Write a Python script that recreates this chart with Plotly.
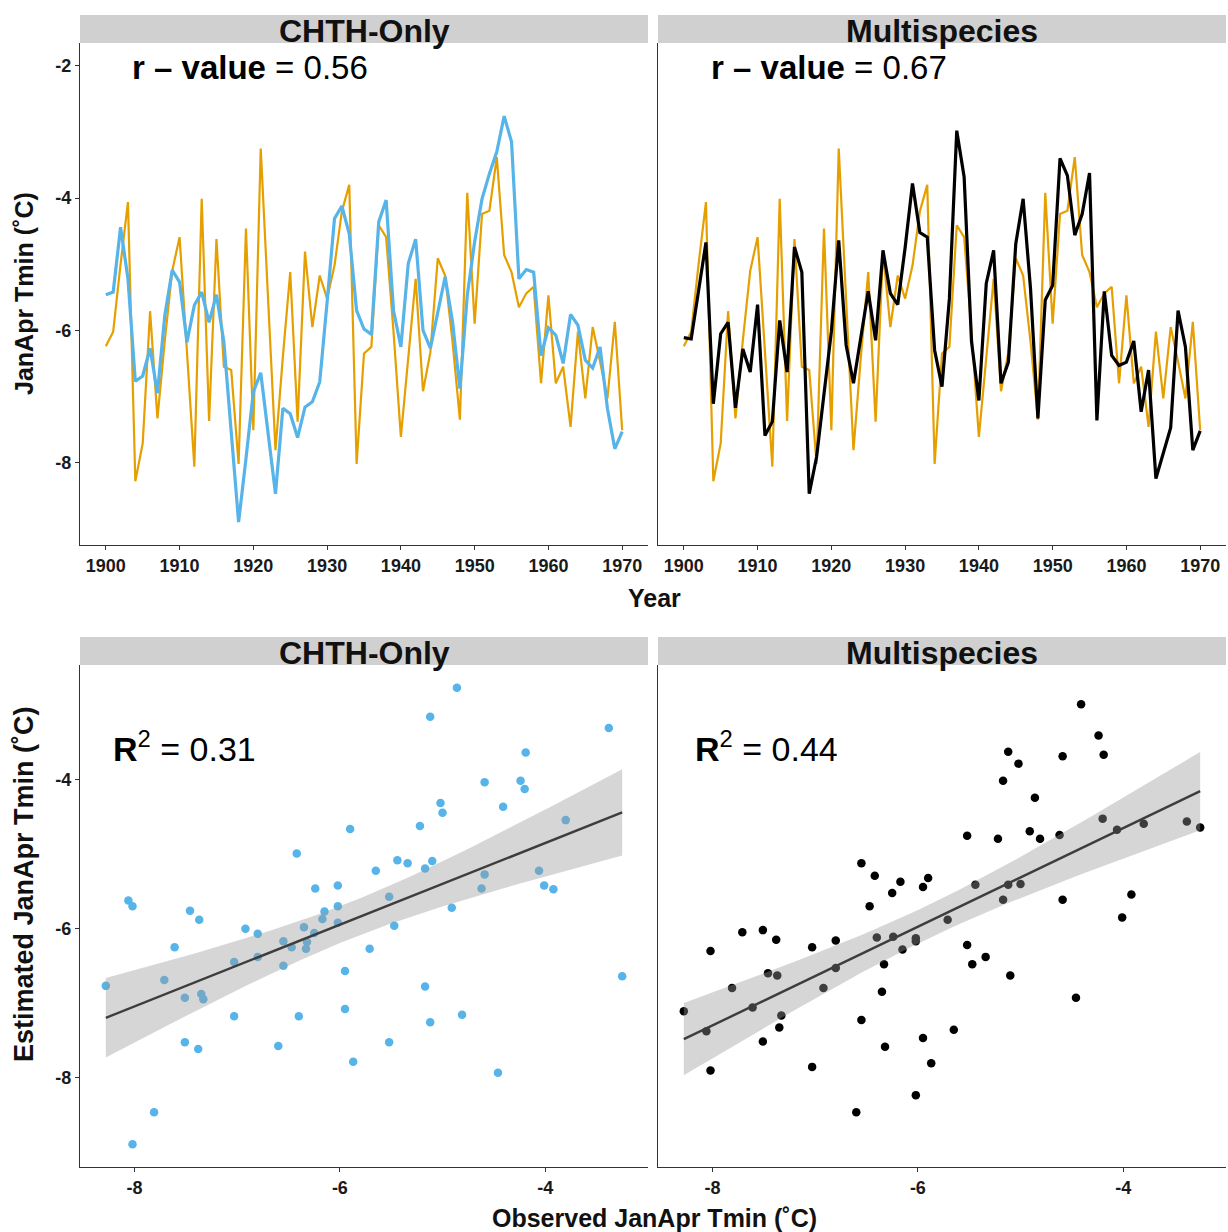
import numpy as np
import plotly.graph_objects as go

# ---------------- data ----------------
years = list(range(1900, 1971))

observed = [-6.24, -6.02, -5.00, -4.06, -8.28, -7.71, -5.71, -7.33, -6.15, -5.10,
            -4.59, -6.32, -8.06, -4.01, -7.37, -4.62, -6.55, -6.60, -8.02, -4.46,
            -7.51, -3.25, -5.52, -7.81, -6.40, -5.12, -7.38, -4.81, -5.95, -5.17,
            -5.52, -5.02, -4.20, -3.80, -8.02, -6.35, -6.25, -4.41, -4.59, -6.02,
            -7.61, -6.42, -5.22, -6.92, -6.33, -4.91, -5.17, -6.17, -7.35, -3.92,
            -5.90, -4.24, -4.19, -3.38, -4.86, -5.12, -5.65, -5.44, -5.34, -6.80,
            -5.47, -6.80, -6.55, -7.46, -6.02, -7.03, -5.95, -6.47, -7.03, -5.87,
            -7.51]

chth_only = [-5.46, -5.42, -4.44, -5.22, -6.77, -6.69, -6.27, -6.95, -5.77, -5.09,
             -5.27, -6.18, -5.62, -5.42, -5.88, -5.46, -6.17, -7.58, -8.90, -7.94,
             -6.93, -6.64, -7.53, -8.47, -7.18, -7.26, -7.62, -7.16, -7.08, -6.78,
             -5.57, -4.31, -4.12, -4.54, -5.70, -5.98, -6.06, -4.36, -4.03, -5.70,
             -6.25, -4.99, -4.62, -6.00, -6.27, -5.72, -5.19, -5.87, -6.88, -5.47,
             -4.66, -4.01, -3.63, -3.30, -2.76, -3.15, -5.22, -5.08, -5.12, -6.38,
             -5.96, -6.07, -6.50, -5.76, -5.92, -6.45, -6.57, -6.25, -7.18, -7.79,
             -7.53]

multispecies = [-6.11, -6.13, -5.40, -4.67, -7.11, -6.05, -5.88, -7.17, -6.28, -6.63,
                -5.61, -7.59, -7.38, -5.85, -6.63, -4.74, -5.12, -8.47, -7.91, -6.93,
                -6.02, -4.64, -6.22, -6.80, -6.12, -5.41, -6.15, -4.79, -5.44, -5.61,
                -4.75, -3.78, -4.52, -4.59, -6.30, -6.85, -5.52, -2.98, -3.68, -6.17,
                -7.06, -5.29, -4.79, -6.80, -6.48, -4.69, -4.01, -5.37, -7.33, -5.54,
                -5.32, -3.40, -3.66, -4.56, -4.24, -3.62, -7.36, -5.41, -6.38, -6.53,
                -6.48, -6.16, -7.23, -6.60, -8.24, -7.86, -7.47, -5.70, -6.25, -7.81,
                -7.52]

panel_titles = ["CHTH-Only", "Multispecies"]
r_values = ["0.56", "0.67"]
r2_values = ["0.31", "0.44"]
year_ticks = [1900, 1910, 1920, 1930, 1940, 1950, 1960, 1970]
temp_ticks_top = [-2, -4, -6, -8]
temp_ticks_bottom = [-4, -6, -8]
obs_ticks = [-8, -6, -4]

# ---------------- styling / layout helpers ----------------
W, H = 1228, 1232
ORANGE = "#E69F00"
BLUE = "#56B4E9"
BLACK = "#000000"
FONT = "Liberation Sans"


def px(x):
    return x / W


def py(y):
    return 1 - y / H


def expand(lo, hi, f=0.05):
    d = (hi - lo) * f
    return [lo - d, hi + d]


all_est = chth_only + multispecies
top_y_range = expand(min(all_est + observed), max(all_est + observed + [-2]))
top_x_range = expand(min(years), max(years))
bot_y_range = expand(min(all_est), max(all_est))
bot_x_range = expand(min(observed), max(observed))

fig = go.Figure()

# top panels: time series
for i, est, col in [(1, chth_only, BLUE), (2, multispecies, BLACK)]:
    xa = "x" if i == 1 else "x2"
    ya = "y" if i == 1 else "y2"
    fig.add_trace(go.Scatter(x=years, y=observed, mode="lines",
                             line=dict(color=ORANGE, width=2.2),
                             xaxis=xa, yaxis=ya, showlegend=False))
    fig.add_trace(go.Scatter(x=years, y=est, mode="lines",
                             line=dict(color=col, width=3.2),
                             xaxis=xa, yaxis=ya, showlegend=False))

# bottom panels: scatter + linear fit with 95% CI
obs = np.array(observed)
for i, est, col in [(3, chth_only, BLUE), (4, multispecies, BLACK)]:
    xa, ya = f"x{i}", f"y{i}"
    y = np.array(est)
    fig.add_trace(go.Scatter(x=obs, y=y, mode="markers",
                             marker=dict(color=col, size=8.5, line=dict(width=0)),
                             xaxis=xa, yaxis=ya, showlegend=False))
    n = len(obs)
    b, a = np.polyfit(obs, y, 1)
    resid = y - (a + b * obs)
    s = np.sqrt(np.sum(resid ** 2) / (n - 2))
    xbar = obs.mean()
    sxx = np.sum((obs - xbar) ** 2)
    xs = np.linspace(obs.min(), obs.max(), 80)
    fit = a + b * xs
    se = s * np.sqrt(1 / n + (xs - xbar) ** 2 / sxx)
    tq = 1.995
    up, lo = fit + tq * se, fit - tq * se
    fig.add_trace(go.Scatter(x=np.concatenate([xs, xs[::-1]]),
                             y=np.concatenate([up, lo[::-1]]),
                             fill="toself", fillcolor="rgba(153,153,153,0.4)",
                             line=dict(width=0), mode="lines", hoverinfo="skip",
                             xaxis=xa, yaxis=ya, showlegend=False))
    fig.add_trace(go.Scatter(x=xs, y=fit, mode="lines",
                             line=dict(color="#3d3d3d", width=2.4),
                             xaxis=xa, yaxis=ya, showlegend=False))

axis_common = dict(showgrid=False, zeroline=False, showline=True,
                   linecolor="#333333", linewidth=1.3, ticks="outside",
                   ticklen=4, tickwidth=1.2, tickcolor="#333333",
                   tickfont=dict(family=FONT, size=18, color="#1a1a1a", weight="bold"))

left_dom = [px(80), px(648)]
right_dom = [px(658), px(1226)]
top_dom = [py(545), py(43)]
bot_dom = [py(1167), py(665)]

layout_axes = {}
for name, dom, anchor in [("xaxis", left_dom, "y"), ("xaxis2", right_dom, "y2")]:
    layout_axes[name] = dict(axis_common, domain=dom, anchor=anchor, range=top_x_range,
                             tickvals=year_ticks, ticktext=[str(v) for v in year_ticks])
for name, dom, anchor in [("xaxis3", left_dom, "y3"), ("xaxis4", right_dom, "y4")]:
    layout_axes[name] = dict(axis_common, domain=dom, anchor=anchor, range=bot_x_range,
                             tickvals=obs_ticks, ticktext=[str(v) for v in obs_ticks])
layout_axes["yaxis"] = dict(axis_common, domain=top_dom, anchor="x", range=top_y_range,
                            tickvals=temp_ticks_top, ticktext=[str(v) for v in temp_ticks_top])
layout_axes["yaxis2"] = dict(axis_common, domain=top_dom, anchor="x2", range=top_y_range,
                             showticklabels=False, ticks="")
layout_axes["yaxis3"] = dict(axis_common, domain=bot_dom, anchor="x3", range=bot_y_range,
                             tickvals=temp_ticks_bottom, ticktext=[str(v) for v in temp_ticks_bottom])
layout_axes["yaxis4"] = dict(axis_common, domain=bot_dom, anchor="x4", range=bot_y_range,
                             showticklabels=False, ticks="")

shapes = []
annotations = []
for (x0, x1) in [(80, 648), (658, 1226)]:
    for (y0, y1) in [(15, 43), (637, 665)]:
        shapes.append(dict(type="rect", xref="paper", yref="paper",
                           x0=px(x0), x1=px(x1), y0=py(y1), y1=py(y0),
                           fillcolor="#D0D0D0", line=dict(width=0), layer="below"))

for j, (xc, title) in enumerate(zip([364, 942], panel_titles)):
    for yc in [31, 653]:
        annotations.append(dict(text=f"<b>{title}</b>", x=px(xc), y=py(yc),
                                xref="paper", yref="paper", xanchor="center", yanchor="middle",
                                showarrow=False, font=dict(family=FONT, size=32, color="#111111")))

for xl, rv in zip([130, 709], r_values):
    annotations.append(dict(text=f"<b>r – value</b> = {rv}", x=px(xl), y=py(67),
                            xref="paper", yref="paper", xanchor="left", yanchor="middle",
                            showarrow=False, font=dict(family=FONT, size=33, color="#000000")))
for xl, r2 in zip([111, 693], r2_values):
    annotations.append(dict(text=f"<b>R</b><sup>2</sup> = {r2}", x=px(xl), y=py(746),
                            xref="paper", yref="paper", xanchor="left", yanchor="middle",
                            showarrow=False, font=dict(family=FONT, size=34, color="#000000")))

title_font = dict(family=FONT, size=25, color="#111111", weight="bold")
annotations.append(dict(text="Year", x=px(654), y=py(598), xref="paper", yref="paper",
                        xanchor="center", yanchor="middle", showarrow=False, font=title_font))
annotations.append(dict(text="Observed JanApr Tmin (˚C)", x=px(654), y=py(1218),
                        xref="paper", yref="paper", xanchor="center", yanchor="middle",
                        showarrow=False, font=title_font))
annotations.append(dict(text="JanApr Tmin (˚C)", x=px(24), y=py(294), xref="paper",
                        yref="paper", xanchor="center", yanchor="middle", textangle=-90,
                        showarrow=False, font=title_font))
annotations.append(dict(text="Estimated JanApr Tmin (˚C)", x=px(24), y=py(884),
                        xref="paper", yref="paper", xanchor="center", yanchor="middle",
                        textangle=-90, showarrow=False,
                        font=dict(family=FONT, size=27, color="#111111", weight="bold")))

fig.update_layout(width=W, height=H, margin=dict(l=0, r=0, t=0, b=0),
                  paper_bgcolor="white", plot_bgcolor="white",
                  shapes=shapes, annotations=annotations, **layout_axes)

fig.write_html("out.html")
